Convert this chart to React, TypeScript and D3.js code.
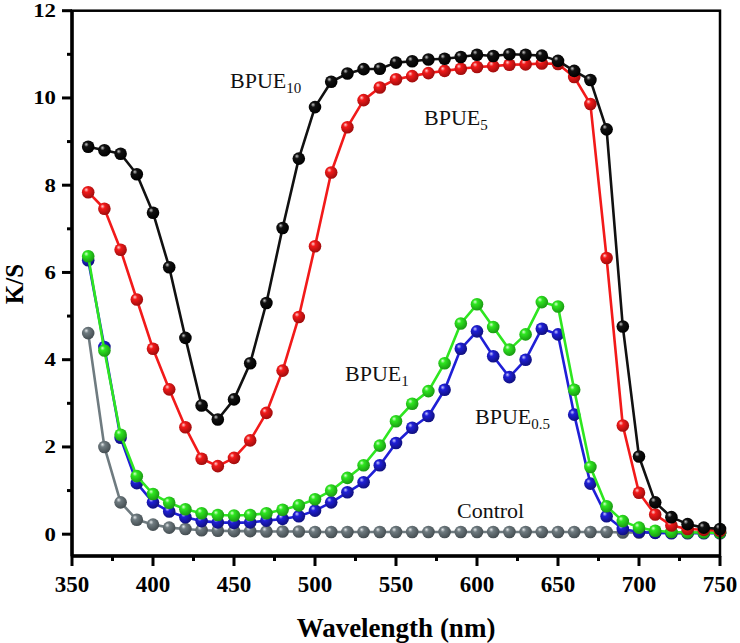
import React from "react";
import * as d3 from "d3";

const wavelengths = [360,370,380,390,400,410,420,430,440,450,460,470,480,490,500,510,520,530,540,550,560,570,580,590,600,610,620,630,640,650,660,670,680,690,700,710,720,730,740,750];

const control = [4.61,2.0,0.73,0.33,0.22,0.15,0.12,0.09,0.08,0.07,0.07,0.06,0.06,0.06,0.05,0.05,0.05,0.05,0.05,0.05,0.05,0.05,0.05,0.05,0.05,0.05,0.05,0.05,0.05,0.05,0.05,0.05,0.05,0.04,0.04,0.04,0.04,0.04,0.04,0.04];
const bpue05 = [6.28,4.29,2.21,1.17,0.73,0.52,0.39,0.30,0.27,0.26,0.27,0.31,0.35,0.41,0.54,0.73,0.96,1.19,1.58,2.09,2.44,2.71,3.31,4.25,4.65,4.08,3.60,4.00,4.71,4.58,2.74,1.16,0.41,0.12,0.05,0.03,0.02,0.02,0.02,0.02];
const bpue1 = [6.37,4.21,2.28,1.33,0.92,0.72,0.57,0.48,0.44,0.43,0.44,0.48,0.56,0.66,0.80,1.00,1.29,1.58,2.03,2.59,2.99,3.28,3.92,4.83,5.27,4.75,4.23,4.58,5.32,5.22,3.31,1.54,0.64,0.30,0.15,0.08,0.05,0.04,0.04,0.03];
const bpue5 = [7.84,7.46,6.52,5.38,4.25,3.32,2.45,1.73,1.56,1.75,2.15,2.78,3.75,4.98,6.60,8.29,9.33,9.95,10.24,10.43,10.50,10.57,10.62,10.67,10.71,10.73,10.76,10.77,10.79,10.78,10.48,9.86,6.33,2.49,0.95,0.45,0.20,0.12,0.10,0.08];
const bpue10 = [8.88,8.80,8.72,8.25,7.37,6.12,4.50,2.95,2.63,3.09,3.92,5.30,7.02,8.61,9.79,10.37,10.56,10.66,10.67,10.81,10.84,10.88,10.90,10.94,10.99,10.96,11.00,10.99,10.97,10.85,10.62,10.41,9.28,4.76,1.78,0.73,0.39,0.23,0.15,0.12];

const xTicks = [350,400,450,500,550,600,650,700,750];
const xMinor = [375,425,475,525,575,625,675,725];
const yTicks = [0,2,4,6,8,10,12];
const yMinor = [1,3,5,7,9,11];

const seriesList = [
  { id: "ctrl", values: control, color: "#6f7b80", hi: "#e4e8ea", dark: "#454e52" },
  { id: "b05", values: bpue05, color: "#1f1fd6", hi: "#c8c8ff", dark: "#101080" },
  { id: "b1", values: bpue1, color: "#2ee620", hi: "#d8ffd0", dark: "#1a9a12" },
  { id: "b5", values: bpue5, color: "#f21a1a", hi: "#ffd0d0", dark: "#a00c0c" },
  { id: "b10", values: bpue10, color: "#111111", hi: "#c8c8c8", dark: "#000000" },
];

const labels = [
  { main: "BPUE", sub: "10", x: 230, y: 88 },
  { main: "BPUE", sub: "5", x: 424, y: 125 },
  { main: "BPUE", sub: "1", x: 345, y: 381 },
  { main: "BPUE", sub: "0.5", x: 475, y: 424 },
  { main: "Control", sub: "", x: 457, y: 518 },
];

export default function App() {
  const W = 740, H = 643;
  const left = 72, right = 720, top = 10.7, bottom = 556;
  const x = d3.scaleLinear().domain([350, 750]).range([left, right]);
  const y = d3.scaleLinear().domain([-0.5, 12]).range([bottom, top]);
  const line = d3.line<number>().x((_, i) => x(wavelengths[i])).y((d) => y(d));
  const font = "'Liberation Serif', 'Times New Roman', serif";

  return (
    <div style={{ position: "fixed", left: 0, top: 0 }}>
      <svg width={W} height={H} style={{ display: "block", background: "#fff" }}>
        <defs>
          {seriesList.map((s) => (
            <radialGradient key={s.id} id={"g-" + s.id} cx="40%" cy="38%" r="62%" fx="34%" fy="30%">
              <stop offset="0%" stopColor={s.hi} />
              <stop offset="30%" stopColor={s.color} />
              <stop offset="100%" stopColor={s.dark} />
            </radialGradient>
          ))}
        </defs>

        {seriesList.map((s) => (
          <g key={s.id}>
            <path d={line(s.values) || ""} fill="none" stroke={s.color} strokeWidth={2.6} strokeLinejoin="round" />
            {s.values.map((v, i) => (
              <circle key={i} cx={x(wavelengths[i])} cy={y(v)} r={6.3} fill={`url(#g-${s.id})`} />
            ))}
          </g>
        ))}

        {/* frame */}
        <rect x={left} y={top} width={right - left} height={bottom - top} fill="none" stroke="#000" strokeWidth={2.5} />
        <line x1={left} x2={left} y1={top} y2={bottom} stroke="#000" strokeWidth={3.5} />
        <line x1={left} x2={right} y1={bottom} y2={bottom} stroke="#000" strokeWidth={3.5} />

        {/* x ticks */}
        {xTicks.map((t) => (
          <g key={"xt" + t}>
            <line x1={x(t)} x2={x(t)} y1={bottom} y2={bottom + 10} stroke="#000" strokeWidth={3} />
            <text x={x(t)} y={592} textAnchor="middle" fontFamily={font} fontWeight="bold" fontSize={23}>{t}</text>
          </g>
        ))}
        {xMinor.map((t) => (
          <line key={"xm" + t} x1={x(t)} x2={x(t)} y1={bottom} y2={bottom + 5} stroke="#000" strokeWidth={3} />
        ))}

        {/* y ticks */}
        {yTicks.map((t) => (
          <g key={"yt" + t}>
            <line x1={left - 10} x2={left} y1={y(t)} y2={y(t)} stroke="#000" strokeWidth={3} />
            <g transform={`translate(56,${y(t) + 6.5}) scale(1.2,1)`}>
              <text x={0} y={0} textAnchor="end" fontFamily={font} fontWeight="bold" fontSize={19}>{t}</text>
            </g>
          </g>
        ))}
        {yMinor.map((t) => (
          <line key={"ym" + t} x1={left - 5} x2={left} y1={y(t)} y2={y(t)} stroke="#000" strokeWidth={3} />
        ))}

        {/* axis titles */}
        <text x={(left + right) / 2} y={637} textAnchor="middle" fontFamily={font} fontWeight="bold" fontSize={27}>Wavelength (nm)</text>
        <text transform={`translate(23,284) rotate(-90)`} textAnchor="middle" fontFamily={font} fontWeight="bold" fontSize={25}>K/S</text>

        {/* series labels */}
        {labels.map((l, i) => (
          <text key={i} x={l.x} y={l.y} fontFamily={font} fontSize={22} fill="#111">
            {l.main}
            {l.sub && <tspan dy={5} fontSize={15}>{l.sub}</tspan>}
          </text>
        ))}
      </svg>
    </div>
  );
}
